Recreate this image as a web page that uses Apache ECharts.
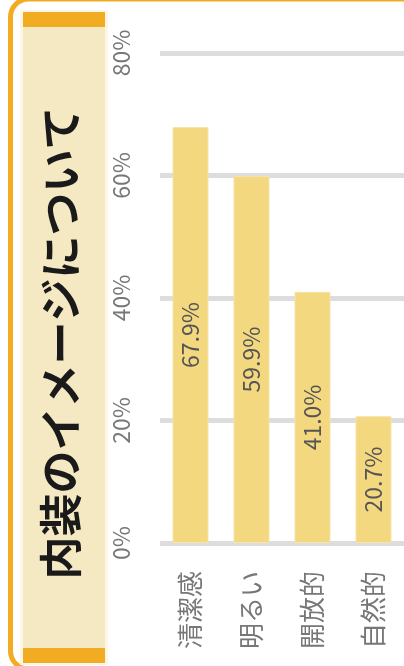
<!DOCTYPE html>
<html><head><meta charset="utf-8">
<script src="https://cdn.jsdelivr.net/npm/echarts@6/dist/echarts.min.js"></script>
<style>html,body{margin:0;padding:0;background:#fff;overflow:hidden;}#c{width:404px;height:666px;}</style>
</head><body><div id="c"></div>
<script>
const titleText = '内装のイメージについて';
const categories = ['清潔感', '明るい', '開放的', '自然的'];
const values = [67.9, 59.9, 41.0, 20.7];
const valueTicks = [0, 20, 40, 60, 80];

const chart = echarts.init(document.getElementById('c'));
const F = '"Noto Sans CJK JP", "Noto Sans", sans-serif';
chart.setOption({
  animation: false,
  grid: { left: 160, right: 0, top: 53, bottom: 123 },
  xAxis: {
    type: 'category', data: categories,
    axisLine: { show: false }, axisTick: { show: false },
    axisLabel: { rotate: 90, margin: 28, color: '#777', fontFamily: F, fontSize: 26 }
  },
  yAxis: {
    type: 'value', min: valueTicks[0], max: valueTicks[valueTicks.length - 1], interval: 20,
    axisLine: { show: false }, axisTick: { show: false },
    splitLine: { lineStyle: { color: '#dddddd', width: 5 } },
    axisLabel: { rotate: 90, margin: 27, color: '#777', fontFamily: F, fontSize: 23, formatter: '{value}%' }
  },
  series: [{
    type: 'bar', data: values, barWidth: '59%',
    itemStyle: { color: '#F3D880', borderColor: '#F6E3A6', borderWidth: 1 },
    label: {
      show: true, position: 'inside', rotate: 90, color: '#555', fontFamily: F, fontSize: 23,
      formatter: p => p.value.toFixed(1) + '%'
    }
  }],
  graphic: [
    { type: 'rect', z: -10, shape: { x: 10.5, y: -1, width: 800, height: 670, r: 18 },
      style: { fill: 'none', stroke: '#F2AC22', lineWidth: 5 } },
    { type: 'rect', z: -6, shape: { x: 20, y: 10, width: 88, height: 655 }, style: { fill: '#FDF6E6' } },
    { type: 'rect', z: -5, shape: { x: 23, y: 12, width: 82, height: 651 }, style: { fill: '#F5E9C3' } },
    { type: 'rect', z: -4, shape: { x: 23, y: 12, width: 82, height: 15 }, style: { fill: '#F2AC22' } },
    { type: 'rect', z: -4, shape: { x: 23, y: 648, width: 82, height: 15 }, style: { fill: '#F2AC22' } },
    { type: 'text', x: 61, y: 343, rotation: Math.PI / 2,
      style: { text: titleText, fontFamily: F, fontSize: 43, fontWeight: 'bold', fill: '#1a1a1a',
        align: 'center', verticalAlign: 'middle' } }
  ]
});
</script></body></html>
